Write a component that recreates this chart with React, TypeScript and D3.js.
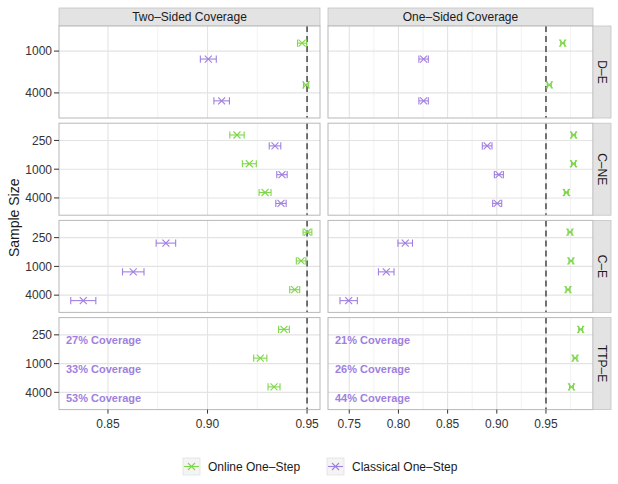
import React from "react";
import * as d3 from "d3";

// ---------- data ----------
const scenarios = ["D–E", "C–NE", "C–E", "TTP–E"];
const coverageTypes = ["Two–Sided Coverage", "One–Sided Coverage"];
const series = ["Online One–Step", "Classical One–Step"];
const sampleSizesByScenario = [
  ["1000", "4000"],
  ["250", "1000", "4000"],
  ["250", "1000", "4000"],
  ["250", "1000", "4000"],
];

// estimates [scenario][sampleSize]
const twoSidedOnline = [
  [0.9475, 0.9495],
  [0.9148, 0.921, 0.9289],
  [0.9502, 0.947, 0.9438],
  [0.9384, 0.9265, 0.9334],
];
const twoSidedOnlineErr = [
  [0.0023, 0.0013],
  [0.0036, 0.0035, 0.003],
  [0.0022, 0.0024, 0.0025],
  [0.0027, 0.0033, 0.003],
];
const twoSidedClassical = [
  [0.9004, 0.9071],
  [0.9339, 0.9374, 0.9369],
  [0.8791, 0.8627, 0.8376],
  [null, null, null],
];
const twoSidedClassicalErr = [
  [0.004, 0.0039],
  [0.0029, 0.0026, 0.0026],
  [0.0049, 0.0054, 0.0063],
  [null, null, null],
];
const oneSidedOnline = [
  [0.967, 0.9534],
  [0.9781, 0.978, 0.9707],
  [0.9744, 0.9754, 0.9724],
  [0.9853, 0.9796, 0.9759],
];
const oneSidedOnlineErr = [
  [0.002, 0.002],
  [0.002, 0.002, 0.002],
  [0.002, 0.002, 0.002],
  [0.002, 0.002, 0.002],
];
const oneSidedClassical = [
  [0.8256, 0.8256],
  [0.8902, 0.9021, 0.9004],
  [0.8069, 0.7876, 0.7494],
  [null, null, null],
];
const oneSidedClassicalErr = [
  [0.0048, 0.0048],
  [0.0049, 0.0046, 0.0046],
  [0.0074, 0.0079, 0.0088],
  [null, null, null],
];
const twoSidedTTPLabels = ["27% Coverage", "33% Coverage", "53% Coverage"];
const oneSidedTTPLabels = ["21% Coverage", "26% Coverage", "44% Coverage"];

const twoSidedTicks = [0.85, 0.9, 0.95];
const oneSidedTicks = [0.75, 0.8, 0.85, 0.9, 0.95];
const twoSidedMinor = [0.825, 0.875, 0.925];
const oneSidedMinor = [0.725, 0.775, 0.825, 0.875, 0.925, 0.975];
const nominal = 0.95;

// ---------- styling ----------
const GREEN = "#7ed649";
const PURPLE = "#a07fe0";
const FONT = "'Liberation Sans', Arial, Helvetica, sans-serif";

const W = 618;
const H = 484;
const panelX = [
  [59, 320],
  [328, 593],
];
const panelTop0 = 26;
const panelH = 92;
const panelStep = 97.2;
const stripTop = 8;
const stripRight = [593, 611];

const xDomains = [
  [0.8254, 0.9565],
  [0.7284, 0.9978],
];

function XMark({ x, y, color }: { x: number; y: number; color: string }) {
  const s = 3.5;
  return (
    <g stroke={color} strokeWidth={1.1}>
      <line x1={x - s} y1={y - s} x2={x + s} y2={y + s} />
      <line x1={x - s} y1={y + s} x2={x + s} y2={y - s} />
    </g>
  );
}

function ErrBar({
  x, lo, hi, y, color,
}: { x: number; lo: number; hi: number; y: number; color: string }) {
  const c = 3.6;
  return (
    <g stroke={color} strokeWidth={1.1} fill="none">
      <line x1={lo} y1={y} x2={hi} y2={y} />
      <line x1={lo} y1={y - c} x2={lo} y2={y + c} />
      <line x1={hi} y1={y - c} x2={hi} y2={y + c} />
      <XMark x={x} y={y} color={color} />
    </g>
  );
}

export default function App() {
  const panels: React.ReactNode[] = [];
  const datasets = [
    [twoSidedOnline, twoSidedOnlineErr, twoSidedClassical, twoSidedClassicalErr, twoSidedTTPLabels],
    [oneSidedOnline, oneSidedOnlineErr, oneSidedClassical, oneSidedClassicalErr, oneSidedTTPLabels],
  ] as any[];

  scenarios.forEach((sc, r) => {
    const top = panelTop0 + r * panelStep;
    const bottom = top + panelH;
    const sizes = sampleSizesByScenario[r];
    const y = d3
      .scalePoint<string>()
      .domain(sizes)
      .range([top, bottom])
      .padding(0.6);
    const step = y.step();
    const dodge = 0.19 * step;

    [0, 1].forEach((c) => {
      const [x0, x1] = panelX[c];
      const x = d3.scaleLinear().domain(xDomains[c]).range([x0, x1]);
      const [on, onE, cl, clE, labels] = datasets[c];
      const majors = c === 0 ? twoSidedTicks : oneSidedTicks;
      const minors = c === 0 ? twoSidedMinor : oneSidedMinor;
      panels.push(
        <g key={`p${r}-${c}`}>
          <rect x={x0} y={top} width={x1 - x0} height={panelH} fill="#fff" />
          {minors
            .filter((v) => x(v) > x0 + 0.5 && x(v) < x1 - 0.5)
            .map((v) => (
              <line key={`mn${v}`} x1={x(v)} x2={x(v)} y1={top} y2={bottom} stroke="#ececec" strokeWidth={0.7} />
            ))}
          {majors.map((v) => (
            <line key={`mj${v}`} x1={x(v)} x2={x(v)} y1={top} y2={bottom} stroke="#e3e3e3" strokeWidth={1.1} />
          ))}
          {sizes.map((s) => (
            <line key={`hy${s}`} x1={x0} x2={x1} y1={y(s)!} y2={y(s)!} stroke="#e3e3e3" strokeWidth={1.1} />
          ))}
          <line
            x1={x(nominal)} x2={x(nominal)} y1={top} y2={bottom}
            stroke="#3c3c3c" strokeWidth={1.4} strokeDasharray="6,4"
          />
          {sizes.map((s, i) => {
            const v = on[r][i];
            const e = onE[r][i];
            return (
              <ErrBar key={`on${s}`} x={x(v)} lo={x(v - e)} hi={x(v + e)} y={y(s)! - dodge} color={GREEN} />
            );
          })}
          {sizes.map((s, i) => {
            const v = cl[r][i];
            const e = clE[r][i];
            if (v == null) return null;
            return (
              <ErrBar key={`cl${s}`} x={x(v)} lo={x(v - e)} hi={x(v + e)} y={y(s)! + dodge} color={PURPLE} />
            );
          })}
          {r === 3 &&
            sizes.map((s, i) => (
              <text
                key={`lab${s}`}
                x={x0 + 7}
                y={y(s)! + dodge}
                dy="0.36em"
                fontFamily={FONT}
                fontWeight="bold"
                fontSize={11}
                fill={PURPLE}
              >
                {labels[i]}
              </text>
            ))}
          <rect x={x0} y={top} width={x1 - x0} height={panelH} fill="none" stroke="#b8b8b8" strokeWidth={1} />
          {r === 3 &&
            majors.map((v) => (
              <g key={`xt${v}`}>
                <line x1={x(v)} x2={x(v)} y1={bottom} y2={bottom + 4} stroke="#333" strokeWidth={1} />
                <text
                  x={x(v)} y={bottom + 14} textAnchor="middle" dy="0.36em"
                  fontFamily={FONT} fontSize={12} fill="#333"
                >
                  {d3.format(".2f")(v)}
                </text>
              </g>
            ))}
        </g>
      );
    });

    // y axis ticks
    panels.push(
      <g key={`ya${r}`}>
        {sizes.map((s) => (
          <g key={s}>
            <line x1={panelX[0][0] - 5} x2={panelX[0][0]} y1={y(s)!} y2={y(s)!} stroke="#333" strokeWidth={1} />
            <text
              x={panelX[0][0] - 7} y={y(s)!} dy="0.36em" textAnchor="end"
              fontFamily={FONT} fontSize={12} fill="#333"
            >
              {s}
            </text>
          </g>
        ))}
        <rect
          x={stripRight[0]} y={top} width={stripRight[1] - stripRight[0]} height={panelH}
          fill="#e3e3e3" stroke="#c4c4c4" strokeWidth={0.8}
        />
        <text
          transform={`translate(${(stripRight[0] + stripRight[1]) / 2},${top + panelH / 2}) rotate(90)`}
          textAnchor="middle" dy="0.36em" fontFamily={FONT} fontSize={12} fill="#1a1a1a"
        >
          {sc}
        </text>
      </g>
    );
  });

  return (
    <svg
      width={W}
      height={H}
      style={{ position: "absolute", left: 0, top: 0, display: "block" }}
    >
      <rect width={W} height={H} fill="#fff" />
      {coverageTypes.map((t, c) => (
        <g key={t}>
          <rect
            x={panelX[c][0]} y={stripTop} width={panelX[c][1] - panelX[c][0]} height={panelTop0 - stripTop}
            fill="#e3e3e3" stroke="#c4c4c4" strokeWidth={0.8}
          />
          <text
            x={(panelX[c][0] + panelX[c][1]) / 2} y={(stripTop + panelTop0) / 2} dy="0.36em"
            textAnchor="middle" fontFamily={FONT} fontSize={12} fill="#1a1a1a"
          >
            {t}
          </text>
        </g>
      ))}
      {panels}
      <text
        transform={`translate(14,${(panelTop0 + panelTop0 + 3 * panelStep + panelH) / 2}) rotate(-90)`}
        textAnchor="middle" dy="0.36em" fontFamily={FONT} fontSize={14} fill="#1a1a1a"
      >
        Sample Size
      </text>
      {/* legend */}
      {series.map((s, i) => {
        const kx = i === 0 ? 183 : 327;
        const ky = 458;
        const color = i === 0 ? GREEN : PURPLE;
        return (
          <g key={s}>
            <rect x={kx} y={ky} width={17} height={17} fill="#f4f4f4" stroke="#e2e2e2" strokeWidth={0.8} />
            <line x1={kx + 1} x2={kx + 16} y1={ky + 8.5} y2={ky + 8.5} stroke={color} strokeWidth={1.1} />
            <XMark x={kx + 8.5} y={ky + 8.5} color={color} />
            <text
              x={kx + 25} y={ky + 8.5} dy="0.36em" fontFamily={FONT} fontSize={12} fill="#1a1a1a"
            >
              {s}
            </text>
          </g>
        );
      })}
    </svg>
  );
}
